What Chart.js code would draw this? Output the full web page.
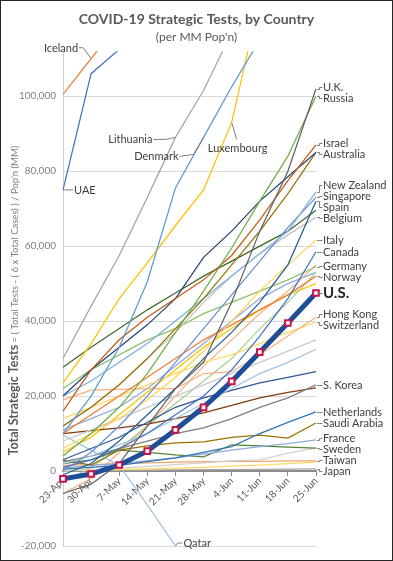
<!DOCTYPE html>
<html>
<head>
<meta charset="utf-8">
<title>COVID-19 Strategic Tests</title>
<script src="https://cdn.jsdelivr.net/npm/chart.js@4.4.1/dist/chart.umd.min.js"></script>
<style>
  html, body { margin: 0; padding: 0; background: #fff; }
  #marco { width: 393px; height: 561px; box-sizing: border-box; border: 1px solid #262626; background: #fff; }
  canvas { display: block; }
</style>
</head>
<body>
<div id="marco"><canvas id="testsChart" width="391" height="559"></canvas></div>
<script>
const weeks = ['23-Apr', '30-Apr', '7-May', '14-May', '21-May', '28-May', '4-Jun', '11-Jun', '18-Jun', '25-Jun'];
const yTicks = [-20000, 0, 20000, 40000, 60000, 80000, 100000];

const usa = [-2100, -800, 1600, 5300, 11000, 17000, 23900, 31700, 39500, 47500];
const iceland = [100500, 110000, 119500, 126000, 131000, 135000, 139000, 142000, 145000, 148000];
const uae = [75000, 106000, 112500, 118000, 123000, 128000, 133000, 138000, 143000, 148000];
const lithuania = [30000, 44000, 57500, 73000, 89000, 101500, 117000, 128000, 136000, 144000];
const denmark = [10000, 20000, 33000, 50500, 75500, 89000, 102500, 115000, 124000, 132000];
const luxembourg = [23500, 34000, 46000, 55500, 65500, 75000, 93000, 126000, 140000, 150000];
const uk = [-6000, -3500, 2000, 12000, 22000, 29000, 45000, 64000, 80000, 102000];
const russia = [4000, 10000, 17000, 26000, 37000, 48000, 59500, 72000, 84000, 100000];
const israel = [16000, 27000, 35000, 41000, 46000, 51000, 57500, 67000, 77500, 87000];
const australia = [20000, 27000, 33000, 39000, 46000, 57000, 64000, 72000, 78500, 85000];
const newZealand = [20000, 24000, 29000, 34000, 40000, 46000, 52000, 58000, 64000, 74500];
const singapore = [0, 5000, 12000, 20000, 29000, 38000, 47000, 56000, 65000, 73000];
const spain = [-1000, 2000, 8000, 15000, 22000, 30000, 37000, 45000, 55000, 72000];
const belgium = [12000, 17000, 23000, 30000, 37000, 45000, 52000, 58000, 63000, 67700];
const italy = [6000, 10000, 14000, 19000, 25000, 32000, 40000, 48000, 55000, 61600];
const canada = [1000, 3000, 6000, 10000, 15000, 20000, 27000, 36000, 46000, 58500];
const germany = [22000, 27000, 31000, 35000, 38000, 42000, 45000, 48000, 51000, 54500];
const norway = [10000, 15000, 20000, 25000, 30000, 35000, 39000, 43000, 47000, 52000];
const hongKong = [19000, 21600, 21800, 22000, 22000, 26000, 26500, 31000, 36000, 41000];
const switzerland = [14000, 17000, 20000, 23000, 26000, 29000, 31000, 34000, 37000, 39700];
const sKorea = [2500, 4000, 6000, 8000, 10000, 11500, 14000, 17000, 19500, 23000];
const netherlands = [500, 1000, 1500, 2500, 3500, 5000, 6500, 10000, 13000, 15800];
const saudiArabia = [3000, 1600, 5600, 6700, 7500, 7800, 9000, 9600, 8800, 12800];
const france = [800, 1500, 2000, 2800, 3500, 4500, 5600, 6500, 7300, 8300];
const sweden = [2000, 3000, 5600, 5000, 4300, 3800, 7000, 6700, 6400, 6100];
const taiwan = [1500, 1700, 2000, 2200, 2400, 2500, 2600, 2600, 2700, 2700];
const japan = [100, 150, 200, 250, 300, 350, 400, 450, 500, 550];
const qatar = [9600, 5500, 1500, -9000, -20000, -30000, -40000, -50000, -60000, -70000];

// countries without a label in the original
const otroA = [12000, 17000, 23000, 30000, 38000, 46000, 55000, 64000, 74000, 85000];
const otroB = [27700, 33000, 38000, 43000, 47500, 52000, 56000, 60000, 64000, 69600];
const otroC = [8000, 11000, 14000, 17000, 20000, 23000, 26000, 29000, 32000, 35000];
const otroD = [2000, 4000, 7000, 10000, 14000, 18000, 22000, 26000, 29000, 32500];
const otroE = [3000, 6000, 9000, 13000, 17000, 19500, 21500, 23500, 25000, 26500];
const otroF = [10000, 10800, 11500, 12500, 14000, 15500, 17500, 19500, 21000, 22200];
const otroG = [0, 300, 800, 1200, 1700, 2200, 2700, 3000, 4800, 6200];
const otroH = [200, 300, 400, 600, 800, 1000, 1300, 1600, 2000, 2400];
const otroI = [-3000, 1000, 6000, 12000, 18000, 24000, 30000, 38000, 45000, 53000];
const otroJ = [-6000, -2000, 5000, 12000, 20000, 28000, 35000, 42000, 48000, 55000];
const otroK = [11000, 14000, 17000, 22000, 28000, 34000, 40000, 46000, 50000, 53000];
const otroL = [5000, 9000, 15000, 21000, 27000, 33000, 38000, 43000, 47000, 50000];

const paises = [
    ['Iceland', iceland, '#ED7D31'],
    ['UAE', uae, '#4472C4'],
    ['Lithuania', lithuania, '#A5A5A5'],
    ['Denmark', denmark, '#5B9BD5'],
    ['Luxembourg', luxembourg, '#FFC000'],
    ['U.K.', uk, '#636363'],
    ['Russia', russia, '#70AD47'],
    ['Israel', israel, '#C55A11'],
    ['Australia', australia, '#264478'],
    ['otroA', otroA, '#997300'],
    ['New Zealand', newZealand, '#7CAFDD'],
    ['Singapore', singapore, '#698ED0'],
    ['Spain', spain, '#255E91'],
    ['Belgium', belgium, '#BFBFBF'],
    ['otroB', otroB, '#43682B'],
    ['Italy', italy, '#FFD34D'],
    ['Canada', canada, '#4472C4'],
    ['Germany', germany, '#8CC168'],
    ['Norway', norway, '#ED7D31'],
    ['Hong Kong', hongKong, '#F4B183'],
    ['Switzerland', switzerland, '#FFD966'],
    ['otroC', otroC, '#C9C9C9'],
    ['otroD', otroD, '#9DC3E6'],
    ['otroE', otroE, '#2F5597'],
    ['S. Korea', sKorea, '#7F7F7F'],
    ['otroF', otroF, '#843C0C'],
    ['Netherlands', netherlands, '#2E75B6'],
    ['Saudi Arabia', saudiArabia, '#997300'],
    ['France', france, '#8FAADC'],
    ['Sweden', sweden, '#548235'],
    ['otroG', otroG, '#D0D0D0'],
    ['Taiwan', taiwan, '#F4A46C'],
    ['otroH', otroH, '#FFD966'],
    ['Japan', japan, '#A5A5A5'],
    ['Qatar', qatar, '#9DC3E6'],
    ['otroI', otroI, '#A9D18E'],
    ['otroJ', otroJ, '#F4B183'],
    ['otroK', otroK, '#8FAADC'],
    ['otroL', otroL, '#FFC000']
];

const etiquetasDerecha = ['U.K.', 'Russia', 'Israel', 'Australia', 'New Zealand', 'Singapore', 'Spain', 'Belgium',
    'Italy', 'Canada', 'Germany', 'Norway', 'U.S.', 'Hong Kong', 'Switzerland', 'S. Korea', 'Netherlands',
    'Saudi Arabia', 'France', 'Sweden', 'Taiwan', 'Japan'];

// notes inside the plot: week index of the anchor, text offset and elbow of the leader line
const notas = [
    { pais: 'Iceland', idx: 1, codo: [-8, -11], tx: -13, ty: -11, align: 'right' },
    { pais: 'UAE', idx: 0, codo: [9, 0], tx: 11, ty: 0, align: 'left' },
    { pais: 'Lithuania', idx: 4, codo: [-10, 2], tx: -23, ty: 2, align: 'right' },
    { pais: 'Denmark', idx: 5, codo: [-10, 17], tx: -25, ty: 19, align: 'right' },
    { pais: 'Luxembourg', idx: 6, codo: [5, 17], tx: 6, ty: 26, align: 'center' },
    { pais: 'Qatar', idx: 4, codo: [2, -3], tx: 8, ty: -3, align: 'left' }
];

const tituloY = ['Total Strategic Tests', " = ( Total Tests - ( 6 x Total Cases) ) / Pop'n (MM)"];

const FUENTE = 'Lato, "Open Sans", sans-serif';
Chart.defaults.font.family = FUENTE;

function separar(items) {
    items.sort((a, b) => a.y - b.y);
    for (let k = 0; k < 300; k++) {
        let movido = false;
        for (let i = 1; i < items.length; i++) {
            const minimo = (items[i - 1].h + items[i].h) / 2;
            const d = items[i].y - items[i - 1].y;
            if (d < minimo - 0.01) {
                const s = (minimo - d) / 2;
                items[i - 1].y -= s;
                items[i].y += s;
                movido = true;
            }
        }
        if (!movido) break;
    }
}

const etiquetasPlugin = {
    id: 'etiquetas',
    afterDraw(chart) {
        // y axis title: bold first part, lighter second part
        const ctx = chart.ctx;
        const area = chart.chartArea;
        ctx.save();
        const fNegrita = 'bold 12.5px ' + FUENTE;
        const fNormal = '9.5px ' + FUENTE;
        ctx.font = fNegrita;
        const w1 = ctx.measureText(tituloY[0]).width;
        ctx.font = fNormal;
        const w2 = ctx.measureText(tituloY[1]).width;
        const centro = (area.top + area.bottom) / 2 + 2;
        ctx.translate(13, centro + (w1 + w2) / 2);
        ctx.rotate(-Math.PI / 2);
        ctx.textBaseline = 'middle';
        ctx.textAlign = 'left';
        ctx.font = fNegrita;
        ctx.fillStyle = '#595959';
        ctx.fillText(tituloY[0], 0, 0);
        ctx.font = fNormal;
        ctx.fillStyle = '#7F7F7F';
        ctx.fillText(tituloY[1], w1, 0.5);
        ctx.restore();
    },
    afterDatasetsDraw(chart) {
        const ctx = chart.ctx;
        const xs = chart.scales.x;
        const ys = chart.scales.y;
        const ultimo = weeks.length - 1;
        const xFin = xs.getPixelForValue(ultimo);
        const datos = {};
        paises.forEach(p => { datos[p[0]] = p[1]; });
        datos['U.S.'] = usa;

        const items = etiquetasDerecha.map(nombre => {
            const y0 = ys.getPixelForValue(datos[nombre][ultimo]);
            return { nombre: nombre, y0: y0, y: y0, h: nombre === 'U.S.' ? 16 : 11 };
        });
        separar(items);

        ctx.save();
        ctx.strokeStyle = '#7F7F7F';
        ctx.lineWidth = 1;
        ctx.textBaseline = 'middle';
        items.forEach(it => {
            const xv = Math.round(xFin + 3) + 0.5;
            ctx.beginPath();
            ctx.moveTo(xFin + 1, Math.round(it.y0) + 0.5);
            ctx.lineTo(xv, Math.round(it.y0) + 0.5);
            ctx.lineTo(xv, Math.round(it.y) + 0.5);
            ctx.lineTo(xv + 3, Math.round(it.y) + 0.5);
            ctx.stroke();
            if (it.nombre === 'U.S.') {
                ctx.font = 'bold 15px ' + FUENTE;
                ctx.fillStyle = '#262626';
            } else {
                ctx.font = '11px ' + FUENTE;
                ctx.fillStyle = '#404040';
            }
            ctx.textAlign = 'left';
            ctx.fillText(it.nombre, xv + 3.5, it.y + 0.5);
        });

        ctx.font = '11px ' + FUENTE;
        ctx.fillStyle = '#404040';
        notas.forEach(n => {
            const serie = datos[n.pais];
            const ax = xs.getPixelForValue(n.idx);
            const ay = Math.min(ys.getPixelForValue(serie[n.idx]), chart.chartArea.bottom);
            const cx = ax + n.codo[0];
            const cy = ay + n.codo[1];
            const fx = ax + n.tx + (n.align === 'right' ? 1 : n.align === 'left' ? -1 : 0);
            ctx.beginPath();
            ctx.moveTo(ax, ay);
            ctx.lineTo(cx, cy);
            if (n.align !== 'center') ctx.lineTo(fx, ay + n.ty);
            ctx.stroke();
            ctx.textAlign = n.align;
            ctx.fillText(n.pais, ax + n.tx, ay + n.ty + 0.5);
        });
        ctx.restore();
    }
};

const datasets = paises.map(p => ({
    label: p[0],
    data: p[1],
    borderColor: p[2],
    borderWidth: 1.25,
    pointRadius: 0,
    tension: 0,
    order: 1
}));
datasets.unshift({
    label: 'U.S.',
    data: usa,
    borderColor: '#1F4E99',
    borderWidth: 5,
    pointStyle: 'rect',
    pointRadius: 4,
    pointBorderWidth: 2,
    pointBorderColor: '#C8144C',
    pointBackgroundColor: '#FFFFFF',
    tension: 0,
    order: 0
});

new Chart(document.getElementById('testsChart'), {
    type: 'line',
    data: { labels: weeks, datasets: datasets },
    options: {
        responsive: false,
        animation: false,
        devicePixelRatio: 1,
        layout: { padding: { left: 0, right: 0, top: 0, bottom: 14 } },
        plugins: {
            legend: { display: false },
            tooltip: { enabled: false },
            title: {
                display: true,
                text: 'COVID-19 Strategic Tests, by Country',
                color: '#595959',
                font: { size: 14, weight: 'bold' },
                padding: { top: 10, bottom: 2 }
            },
            subtitle: {
                display: true,
                text: "(per MM Pop'n)",
                color: '#595959',
                font: { size: 12 },
                padding: { top: 0, bottom: 7 }
            }
        },
        scales: {
            x: {
                type: 'category',
                position: { y: 0 },
                offset: false,
                grid: { drawOnChartArea: false, drawTicks: true, tickLength: 4, color: '#8C8C8C' },
                border: { color: '#8C8C8C', width: 2 },
                ticks: { autoSkip: false, maxRotation: 45, minRotation: 45, color: '#595959', font: { size: 10 }, padding: 0 }
            },
            y: {
                min: yTicks[0],
                max: 112000,
                afterBuildTicks(scale) {
                    scale.ticks = yTicks.map(v => ({ value: v }));
                },
                afterFit(scale) {
                    scale.width = 62;
                },
                ticks: { color: '#808080', font: { size: 10 }, padding: 7 },
                grid: { color: '#D9D9D9', drawTicks: false },
                border: { color: '#D0D0D0' }
            },
            margenDer: {
                type: 'linear',
                position: 'right',
                display: true,
                grid: { display: false, drawTicks: false },
                border: { display: false },
                ticks: { display: false },
                afterFit(scale) {
                    scale.width = 76;
                }
            }
        }
    },
    plugins: [etiquetasPlugin]
});
</script>
</body>
</html>
